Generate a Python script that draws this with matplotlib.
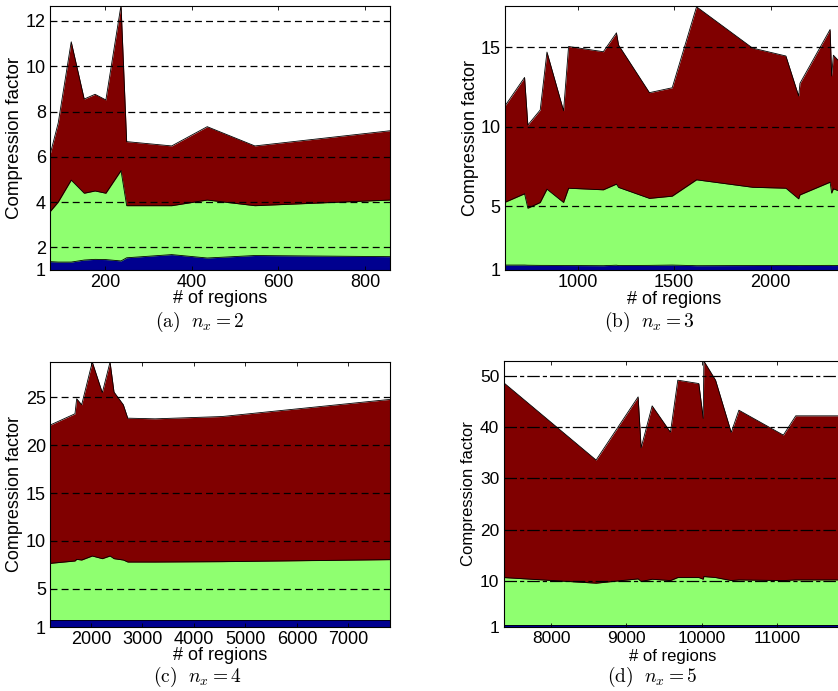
import matplotlib
matplotlib.use("Agg")
import matplotlib.pyplot as plt

# ---- data (top of each area) ----
# (a) n_x = 2
x_a = [73, 92, 122, 152, 177, 202, 237, 250, 354, 436, 546, 858]
red_a = [6.08, 7.5, 11.08, 8.55, 8.76, 8.51, 12.7, 6.67, 6.48, 7.33, 6.48, 7.15]
green_a = [3.57, 4.0, 4.97, 4.39, 4.49, 4.39, 5.39, 3.84, 3.84, 4.09, 3.84, 4.09]
blue_a = [1.37, 1.35, 1.35, 1.44, 1.47, 1.46, 1.40, 1.54, 1.68, 1.53, 1.64, 1.59]

# (b) n_x = 3
x_b = [621, 725, 742, 806, 841, 927, 953, 1133, 1201, 1212, 1372, 1490, 1616,
       1906, 2079, 2145, 2152, 2308, 2316, 2325, 2349, 2380]
red_b = [11.26, 13.1, 10.1, 11.05, 14.7, 11.0, 15.05, 14.72, 15.91, 15.14, 12.14,
         12.45, 17.55, 14.95, 14.45, 11.93, 12.73, 16.12, 13.19, 14.5, 14.19, 13.8]
green_b = [5.22, 5.77, 4.86, 5.22, 6.06, 5.22, 6.12, 6.02, 6.38, 6.17, 5.48,
           5.62, 6.65, 6.18, 6.12, 5.45, 5.70, 6.5, 5.81, 6.08, 5.97, 5.9]
blue_b = [1.28, 1.28, 1.27, 1.26, 1.26, 1.25, 1.25, 1.24, 1.27, 1.25, 1.26,
          1.28, 1.24, 1.25, 1.26, 1.25, 1.25, 1.26, 1.25, 1.25, 1.25, 1.25]

# (c) n_x = 4
x_c = [1204, 1689, 1722, 1819, 2025, 2220, 2370, 2447, 2628, 2714, 3245, 4543, 7806]
red_c = [22.1, 23.29, 24.86, 24.23, 28.7, 25.49, 28.7, 25.56, 24.23, 22.83, 22.76, 23.0, 24.79]
green_c = [7.65, 7.9, 8.07, 8.0, 8.42, 8.14, 8.42, 8.14, 8.0, 7.79, 7.79, 7.83, 8.04]
blue_c = [1.7, 1.7, 1.7, 1.7, 1.7, 1.7, 1.7, 1.7, 1.7, 1.7, 1.7, 1.7, 1.7]

# (d) n_x = 5
x_d = [7370, 8598, 9155, 9195, 9341, 9584, 9681, 9960, 10018, 10027, 10182,
       10390, 10491, 11081, 11245, 11885]
red_d = [48.7, 33.57, 45.9, 35.97, 44.15, 39.0, 49.16, 48.5, 41.7, 52.9, 49.16,
         38.96, 43.3, 38.44, 42.2, 42.2]
green_d = [10.65, 9.55, 10.39, 9.87, 10.32, 10.06, 10.65, 10.65, 10.32, 10.84, 10.65,
           10.06, 10.19, 10.06, 10.19, 10.19]
blue_d = [1.45, 1.45, 1.45, 1.45, 1.45, 1.45, 1.45, 1.45, 1.45, 1.45, 1.45,
          1.45, 1.45, 1.45, 1.45, 1.45]

yticks_a = [1, 2, 4, 6, 8, 10, 12]
yticks_b = [1, 5, 10, 15]
yticks_c = [1, 5, 10, 15, 20, 25]
yticks_d = [1, 10, 20, 30, 40, 50]
xticks_a = [200, 400, 600, 800]
xticks_b = [1000, 1500, 2000]
xticks_c = [2000, 3000, 4000, 5000, 6000, 7000]
xticks_d = [8000, 9000, 10000, 11000]

RED = "#800000"
GREEN = "#8fff70"
BLUE = "#00008f"

W, H = 838, 691
plt.rcParams["font.family"] = ["Liberation Sans", "DejaVu Sans"]
plt.rcParams["mathtext.fontset"] = "cm"
plt.rcParams["lines.scale_dashes"] = False

fig = plt.figure(figsize=(W / 100, H / 100), dpi=100)


def add_ax(l, t, r, b):
    # axes box given in pixels of the final image
    return fig.add_axes([l / W, 1 - b / H, (r - l) / W, (b - t) / H])


def ftext(x, y, s, size, **kw):
    fig.text(x / W, 1 - y / H, s, fontsize=size, ha="center", va="center", **kw)


def panel(ax, x, blue, green, red, ytop, yticks, xticks, dash, fs):
    for top, col in ((red, RED), (green, GREEN), (blue, BLUE)):
        ax.fill_between(x, 0, top, color=col, lw=0, zorder=1)
        ax.plot(x, top, color="k", lw=0.6, zorder=2)
    for yv in yticks[1:]:
        ax.axhline(yv, color="k", lw=0.9, linestyle=(0, dash), zorder=3)
    ax.set_yticks(yticks)
    ax.set_xticks(xticks)
    # limits after the ticks, set_xticks would widen them otherwise
    ax.set_xlim(x[0], x[-1])
    ax.set_ylim(1, ytop)
    ax.tick_params(direction="in", top=True, right=True, length=3, width=0.6,
                   labelsize=fs, pad=3)
    for s in ax.spines.values():
        s.set_linewidth(0.8)
        s.set_zorder(4)


ax_a = add_ax(50, 6, 390, 270)
panel(ax_a, x_a, blue_a, green_a, red_a, 12.66, yticks_a, xticks_a, (5, 3), 13)
ax_b = add_ax(504.5, 6, 844, 269.5)
panel(ax_b, x_b, blue_b, green_b, red_b, 17.6, yticks_b, xticks_b, (5, 3), 13)
ax_c = add_ax(50, 362, 390, 627)
panel(ax_c, x_c, blue_c, green_c, red_c, 28.7, yticks_c, xticks_c, (5, 3), 13)
ax_d = add_ax(503.5, 361, 844, 627)
panel(ax_d, x_d, blue_d, green_d, red_d, 52.9, yticks_d, xticks_d, (9, 2.2, 3, 2.2), 12.5)

# axis labels and captions
ftext(15, 138, "Compression factor", 13.5, rotation=90)
ftext(220, 299, "# of regions", 13)
ftext(200, 322, r"$\mathrm{(a)}\ \ n_x = 2$", 14)

ftext(470, 138, "Compression factor", 13, rotation=90)
ftext(674, 300, "# of regions", 13)
ftext(649, 322, r"$\mathrm{(b)}\ \ n_x = 3$", 14)

ftext(15, 494, "Compression factor", 13, rotation=90)
ftext(220, 656, "# of regions", 13)
ftext(197, 677, r"$\mathrm{(c)}\ \ n_x = 4$", 14)

ftext(468, 494, "Compression factor", 12, rotation=90)
ftext(673, 657, "# of regions", 12)
ftext(652, 677, r"$\mathrm{(d)}\ \ n_x = 5$", 14)

fig.savefig("out.png", dpi=100)
